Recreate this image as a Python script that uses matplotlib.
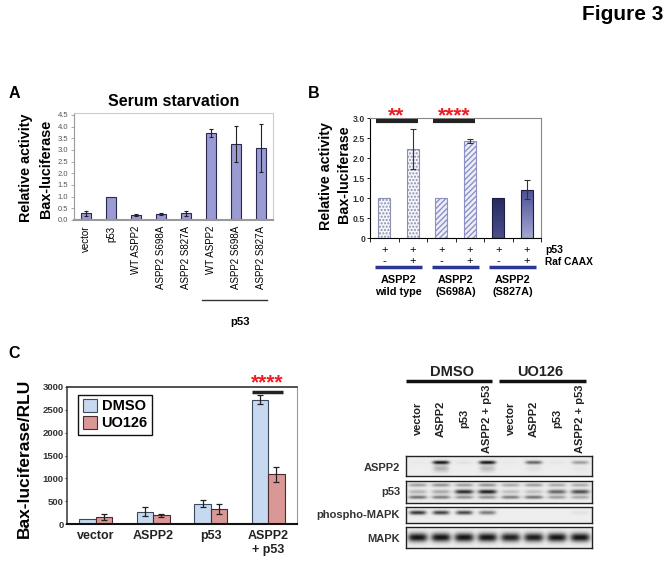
import numpy as np
import matplotlib
matplotlib.use('Agg')
import matplotlib.pyplot as plt
import matplotlib.transforms as mtransforms
from matplotlib.patches import Patch

plt.rcParams['font.family'] = ['Liberation Sans', 'DejaVu Sans']

################ DATA ################
# panel A
A_labels = ['vector', 'p53', 'WT ASPP2', 'ASPP2 S698A', 'ASPP2 S827A',
            'WT ASPP2', 'ASPP2 S698A', 'ASPP2 S827A']
A_vals = [0.28, 0.99, 0.22, 0.25, 0.28, 3.72, 3.25, 3.07]
A_err = [0.12, 0.0, 0.05, 0.04, 0.10, 0.16, 0.77, 1.03]
A_yticks = [0.0, 0.5, 1.0, 1.5, 2.0, 2.5, 3.0, 3.5, 4.0, 4.5]

# panel B
B_vals = [1.0, 2.22, 1.0, 2.42, 1.0, 1.21]
B_err = [0.0, 0.50, 0.0, 0.05, 0.0, 0.23]
B_p53 = ['+', '+', '+', '+', '+', '+']
B_raf = ['-', '+', '-', '+', '-', '+']
B_groups = ['ASPP2\nwild type', 'ASPP2\n(S698A)', 'ASPP2\n(S827A)']
B_yticks = [0, 0.5, 1.0, 1.5, 2.0, 2.5, 3.0]
B_yticklabels = ['0', '0.5', '1.0', '1.5', '2.0', '2.5', '3.0']

# panel C
C_cats = ['vector', 'ASPP2', 'p53', 'ASPP2\n+ p53']
C_dmso = [105, 270, 445, 2720]
C_dmso_err = [0, 92, 70, 102]
C_uo = [153, 190, 322, 1090]
C_uo_err = [62, 30, 113, 168]
C_yticks = [0, 500, 1000, 1500, 2000, 2500, 3000]

# western blot (band darkness per lane)
lanes = ['vector', 'ASPP2', 'p53', 'ASPP2 + p53', 'vector', 'ASPP2', 'p53', 'ASPP2 + p53']
aspp2_main = [0.02, 0.95, 0.05, 0.95, 0.02, 0.6, 0.04, 0.35]
aspp2_low = [0.0, 0.25, 0.0, 0.2, 0.0, 0.05, 0.0, 0.03]
p53_top = [0.35, 0.4, 0.35, 0.4, 0.3, 0.35, 0.3, 0.3]
p53_mid = [0.25, 0.3, 0.85, 0.9, 0.2, 0.2, 0.6, 0.7]
p53_low = [0.55, 0.5, 0.4, 0.4, 0.5, 0.55, 0.35, 0.3]
pmapk = [0.8, 0.75, 0.72, 0.5, 0.0, 0.0, 0.0, 0.05]
mapk = [0.95, 0.95, 0.95, 0.95, 0.9, 0.92, 0.95, 0.95]

################ LAYOUT ################
W, H = 672, 565


def rect(x0, y0, x1, y1):
    return [x0 / W, 1 - y1 / H, (x1 - x0) / W, (y1 - y0) / H]


fig = plt.figure(figsize=(W / 100, H / 100), dpi=100)

# overlay in pixel coordinates for free text
ov = fig.add_axes([0, 0, 1, 1])
ov.set_xlim(0, W)
ov.set_ylim(H, 0)
ov.axis('off')

ov.text(663, 15, 'Figure 3', ha='right', va='center', fontsize=15, fontweight='bold')

################ PANEL A ################
axA = fig.add_axes(rect(74, 113, 273, 220))
x = np.arange(len(A_vals))
axA.bar(x, A_vals, width=0.4, color='#9b9bd3', edgecolor='#2a2a50', linewidth=0.8, zorder=2)
A_err = np.array(A_err)
m = A_err > 0
axA.errorbar(x[m], np.array(A_vals)[m], yerr=A_err[m], fmt='none', ecolor='#222222',
             elinewidth=0.8, capsize=1.5, capthick=0.8, zorder=3)
axA.set_xlim(-0.5, 7.5)
axA.set_ylim(0, 4.58)
axA.set_yticks(A_yticks)
axA.set_yticklabels(['%.1f' % v for v in A_yticks], fontsize=5.5, color='#555555')
axA.tick_params(axis='y', length=2, width=0.6, color='#999999', pad=2)
axA.set_xticks(x)
axA.set_xticklabels(A_labels, rotation=90, fontsize=7)
axA.tick_params(axis='x', length=0, pad=4)
for s in ['top', 'right']:
    axA.spines[s].set_color('#cccccc')
    axA.spines[s].set_linewidth(0.8)
axA.spines['left'].set_color('#999999')
axA.spines['bottom'].set_color('#999999')
axA.spines['bottom'].set_linewidth(1.5)

ov.text(14, 94, 'A', ha='center', va='center', fontsize=11.5, fontweight='bold')
ov.text(174, 101, 'Serum starvation', ha='center', va='center', fontsize=11.5, fontweight='bold')
ov.text(26, 168, 'Relative activity', rotation=90, ha='center', va='center', fontsize=10.4, fontweight='bold')
ov.text(46, 169, 'Bax-luciferase', rotation=90, ha='center', va='center', fontsize=10.4, fontweight='bold')
ov.plot([202, 267], [300, 300], color='#333333', lw=1)
ov.text(240, 322, 'p53', ha='center', va='center', fontsize=8.2, fontweight='bold')

################ PANEL B ################
axB = fig.add_axes(rect(370, 118, 541, 238))
xb = np.arange(1, 7)
bars = axB.bar(xb, B_vals, width=0.41, zorder=2)
styles = [dict(fc='#f6f6fa', ec='#8a90b0', hatch='.....'),
          dict(fc='#f6f6fa', ec='#8a90b0', hatch='.....'),
          dict(fc='#eeeef8', ec='#8c90c4', hatch='//////'),
          dict(fc='#eeeef8', ec='#8c90c4', hatch='//////'),
          dict(fc='#2f3470', ec='#1a1d40', hatch=None),
          dict(fc='#6a6fac', ec='#1a1d40', hatch=None)]
for b, st in zip(bars, styles):
    b.set_facecolor(st['fc'])
    b.set_edgecolor(st['ec'])
    b.set_linewidth(0.8)
    if st['hatch']:
        b.set_hatch(st['hatch'])
# gradient on the last two bars
grads = [('#262a60', '#4a4f8c'), ('#4a5094', '#a4a6d2')]
for b, (c_top, c_bot) in zip(list(bars)[4:], grads):
    c1 = np.array(matplotlib.colors.to_rgb(c_top))
    c2 = np.array(matplotlib.colors.to_rgb(c_bot))
    t = np.linspace(0, 1, 64)[:, None]
    g = (c1[None, :] * (1 - t) + c2[None, :] * t)[:, None, :]
    x0, y0 = b.get_x(), b.get_y()
    im = axB.imshow(g, extent=(x0, x0 + b.get_width(), y0, y0 + b.get_height()),
                    aspect='auto', origin='upper', zorder=2.1)
    im.set_clip_path(b)
    b.set_zorder(2.2)
    b.set_facecolor('none')
B_err = np.array(B_err)
m = B_err > 0
axB.errorbar(xb[m], np.array(B_vals)[m], yerr=B_err[m], fmt='none', ecolor='#333333',
             elinewidth=0.8, capsize=2, capthick=0.8, zorder=3)
axB.set_xlim(0.5, 6.5)
axB.set_ylim(0, 3.0)
axB.set_yticks(B_yticks)
axB.set_yticklabels(B_yticklabels, fontsize=6.3, fontweight='bold', color='#333333')
axB.tick_params(axis='y', length=2.5, width=0.6, direction='out', pad=1)
axB.set_xticks(np.arange(0.5, 6.6, 1.0))
axB.set_xticklabels([])
axB.tick_params(axis='x', length=3, width=0.6, direction='out')
for s in ['top', 'right']:
    axB.spines[s].set_color('#888888')
axB.set_aspect('auto')

# significance
axB.plot([0.7, 2.17], [2.93, 2.93], color='#222222', lw=3, solid_capstyle='butt', zorder=4, clip_on=False)
axB.plot([2.71, 4.18], [2.93, 2.93], color='#222222', lw=3, solid_capstyle='butt', zorder=4, clip_on=False)
tB = mtransforms.blended_transform_factory(axB.transData, ov.transData)
ov.text(1.43, 116, '**', transform=tB, ha='center', va='center', color='#ee1c24', fontsize=15, fontweight='bold')
ov.text(3.45, 116, '****', transform=tB, ha='center', va='center', color='#ee1c24', fontsize=15, fontweight='bold')

for xi, p, r in zip(xb, B_p53, B_raf):
    ov.text(xi, 250, p, transform=tB, ha='center', va='center', fontsize=8)
    ov.text(xi, 261, r, transform=tB, ha='center', va='center', fontsize=8)
ov.text(545, 250, 'p53', ha='left', va='center', fontsize=7.5, fontweight='bold')
ov.text(545, 262, 'Raf CAAX', ha='left', va='center', fontsize=7.3, fontweight='bold')
for gi, g in enumerate(B_groups):
    c = 1.5 + 2 * gi
    ov.plot([c - 0.82, c + 0.82], [267, 267], transform=tB, color='#2b3594', lw=2.5, solid_capstyle='butt')
    ov.text(c, 286, g, transform=tB, ha='center', va='center', fontsize=7.8, fontweight='bold',
            linespacing=1.25)

ov.text(314, 94, 'B', ha='center', va='center', fontsize=11.5, fontweight='bold')
ov.text(326, 176, 'Relative activity', rotation=90, ha='center', va='center', fontsize=10.3, fontweight='bold')
ov.text(344, 174, 'Bax-luciferase', rotation=90, ha='center', va='center', fontsize=10.3, fontweight='bold')

################ PANEL C ################
axC = fig.add_axes(rect(67, 387, 297, 524))
xc = np.arange(len(C_cats))
w = 0.286
axC.bar(xc - w / 2, C_dmso, width=w, color='#c6d9f1', edgecolor='#3a4a5a', linewidth=0.8, label='DMSO', zorder=2)
axC.bar(xc + w / 2, C_uo, width=w, color='#d99795', edgecolor='#4a2a2a', linewidth=0.8, label='UO126', zorder=2)
de = np.array(C_dmso_err)
m = de > 0
axC.errorbar((xc - w / 2)[m], np.array(C_dmso)[m], yerr=de[m], fmt='none', ecolor='#222222',
             elinewidth=0.9, capsize=2, capthick=0.9, zorder=3)
axC.errorbar(xc + w / 2, C_uo, yerr=C_uo_err, fmt='none', ecolor='#222222',
             elinewidth=0.9, capsize=2, capthick=0.9, zorder=3)
axC.set_xlim(-0.5, 3.5)
axC.set_ylim(0, 3000)
axC.set_yticks(C_yticks)
axC.set_yticklabels([str(v) for v in C_yticks], fontsize=6.8, fontweight='bold', color='#333333')
axC.tick_params(axis='y', length=1.5, width=0.6, pad=1)
axC.set_xticks(xc)
axC.set_xticklabels(C_cats, fontsize=9, fontweight='bold', color='#222222', linespacing=1.3)
axC.tick_params(axis='x', length=0, pad=4)
axC.spines['left'].set_color('#444444')
axC.spines['left'].set_linewidth(1.2)
axC.spines['bottom'].set_color('#111111')
axC.spines['bottom'].set_linewidth(1.5)
axC.spines['top'].set_color('#333333')
axC.spines['top'].set_linewidth(1.2)
axC.spines['right'].set_color('#999999')
axC.spines['right'].set_linewidth(0.8)
leg = axC.legend(handles=[Patch(fc='#c6d9f1', ec='#3a4a5a', lw=0.8, label='DMSO'),
                          Patch(fc='#d99795', ec='#4a2a2a', lw=0.8, label='UO126')],
                 loc='upper left', bbox_to_anchor=(0.049, 0.945), fancybox=False,
                 edgecolor='#111111', framealpha=1, borderaxespad=0,
                 prop={'size': 10.5, 'weight': 'bold'}, handlelength=1.0, handleheight=1.0,
                 handletextpad=0.3, borderpad=0.3, labelspacing=0.15)
leg.get_frame().set_linewidth(1.0)

axC.plot([2.71, 3.25], [2897, 2897], color='#222222', lw=2.5, solid_capstyle='butt', zorder=4, clip_on=False)
tC = mtransforms.blended_transform_factory(axC.transData, ov.transData)
ov.text(2.98, 383, '****', transform=tC, ha='center', va='center', color='#ee1c24', fontsize=15, fontweight='bold')

ov.text(14, 354, 'C', ha='center', va='center', fontsize=11.5, fontweight='bold')
ov.text(24, 458, 'Bax-luciferase/RLU', rotation=90, ha='center', va='center', fontsize=12.5, fontweight='bold')

################ WESTERN BLOT ################
bx0, bx1 = 406, 592
lane_w = (bx1 - bx0) / len(lanes)
ov.text(451.7, 371.7, 'DMSO', ha='center', va='center', fontsize=10.5, fontweight='bold', color='#222222')
ov.text(540, 371.7, 'UO126', ha='center', va='center', fontsize=10.5, fontweight='bold', color='#222222')
ov.plot([406, 492], [381, 381], color='#111111', lw=2.5, solid_capstyle='butt')
ov.plot([499, 586], [381, 381], color='#111111', lw=2.5, solid_capstyle='butt')
for i, ln in enumerate(lanes):
    ov.text(bx0 + (i + 0.5) * lane_w, 418.7, ln, rotation=90, ha='center', va='center',
            fontsize=8, fontweight='bold', color='#222222')

lane_x = np.linspace(-0.5, len(lanes) - 0.5, 400)


def blot(y0, y1, bands):
    ax = fig.add_axes(rect(bx0, y0, bx1, y1))
    nrow = 80
    yy = np.linspace(0, 1, nrow)[:, None]
    xx = lane_x[None, :]
    img = np.full((nrow, len(lane_x)), 0.93)
    for yc, sy, wx, ints in bands:
        for i, v in enumerate(ints):
            img -= 0.9 * v * np.exp(-((xx - i) / wx) ** 4) * np.exp(-((yy - yc) / sy) ** 2)
    ax.imshow(np.clip(img, 0, 1), cmap='gray', vmin=0, vmax=1, aspect='auto',
              extent=(-0.5, len(lanes) - 0.5, 1, 0), interpolation='bilinear')
    ax.set_xticks([])
    ax.set_yticks([])
    for s in ax.spines.values():
        s.set_color('#222222')
        s.set_linewidth(1.0)
    return ax


blot(456, 476, [(0.32, 0.09, 0.36, aspp2_main), (0.62, 0.18, 0.33, aspp2_low)])
blot(481, 503, [(0.18, 0.08, 0.4, p53_top), (0.49, 0.1, 0.4, p53_mid), (0.74, 0.08, 0.4, p53_low)])
blot(507, 523, [(0.35, 0.13, 0.36, pmapk)])
blot(527, 548, [(0.52, 0.2, 0.42, mapk)])

row_labels = ['ASPP2', 'p53', 'phospho-MAPK', 'MAPK']
row_y = [468, 492, 515, 539]
for lab, yv in zip(row_labels, row_y):
    ov.text(400, yv, lab, ha='right', va='center', fontsize=8, fontweight='bold', color='#333333')

fig.savefig('out.png', dpi=100)
